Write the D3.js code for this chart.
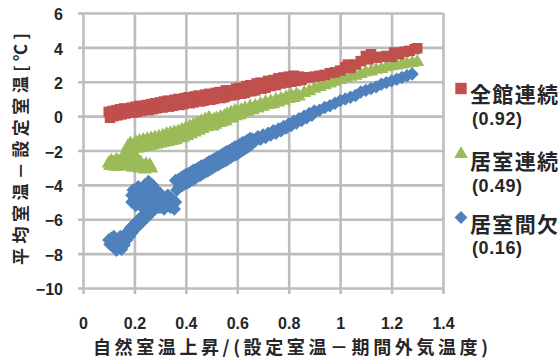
<!DOCTYPE html>
<html>
<head>
<meta charset="utf-8">
<script src="https://cdn.jsdelivr.net/npm/d3@7"></script>
<style>
  html, body { margin: 0; padding: 0; background: #fff; }
  svg { display: block; }
</style>
</head>
<body>
<svg id="chart" width="559" height="358"></svg>
<script>
// ---- data ----
const xTicks = [0, 0.2, 0.4, 0.6, 0.8, 1, 1.2, 1.4];
const yTicks = [6, 4, 2, 0, -2, -4, -6, -8, -10];
const seriesNames = ["全館連続", "居室連続", "居室間欠"];
const seriesNotes = ["(0.92)", "(0.49)", "(0.16)"];

const zenkanPoints = [
  [0.100,0.25],[0.105,-0.1],[0.11,0.15],[0.115,0.3],[0.12,0.0],[0.125,0.2],[0.13,0.35],[0.135,0.05],
  [0.14,0.25],[0.145,0.4],[0.15,0.1],[0.155,0.3],[0.16,0.45],[0.165,0.15],[0.17,0.35],[0.175,0.2],
  [0.18,0.45],[0.185,0.25],[0.19,0.5],[0.195,0.2],[0.20,0.4],[0.205,0.55],[0.21,0.25],[0.215,0.45],
  [0.22,0.6],[0.225,0.3],[0.23,0.5],[0.235,0.35],[0.24,0.6],[0.245,0.4],[0.25,0.65],[0.255,0.35],
  [0.26,0.55],[0.265,0.7],[0.27,0.4],[0.275,0.6],[0.28,0.75],[0.285,0.45],[0.29,0.65],[0.295,0.5],
  [0.30,0.8],[0.31,0.5],[0.315,0.85],[0.32,0.6],[0.33,0.9],[0.335,0.55],[0.34,0.8],[0.35,0.6],
  [0.355,0.95],[0.36,0.7],[0.37,1.0],[0.375,0.65],[0.38,0.9],[0.39,0.7],[0.395,1.05],[0.40,0.8],
  [0.41,1.1],[0.415,0.75],[0.42,1.0],[0.43,0.8],[0.435,1.15],[0.44,0.9],[0.45,1.2],[0.455,0.85],
  [0.46,1.1],[0.47,0.9],[0.475,1.25],[0.48,1.0],[0.49,1.3],[0.495,0.95],[0.50,1.2],[0.51,1.0],
  [0.515,1.35],[0.52,1.1],[0.53,1.4],[0.535,1.05],[0.54,1.3],[0.55,1.1],[0.555,1.5],[0.56,1.2],
  [0.57,1.5],[0.575,1.2],[0.58,1.5],[0.59,1.25],[0.595,1.6],[0.60,1.3],[0.61,1.65],[0.615,1.3],
  [0.62,1.55],[0.63,1.35],[0.635,1.75],[0.64,1.45],[0.65,1.8],[0.655,1.45],[0.66,1.7],[0.67,1.5],
  [0.675,1.9],[0.68,1.6],[0.69,1.95],[0.695,1.6],[0.70,1.85],[0.71,1.65],[0.72,2.05],[0.73,1.75],
  [0.74,2.1],[0.75,1.8],[0.76,2.2],[0.77,1.9],[0.78,2.25],[0.79,1.95],[0.80,2.3],[0.81,2.0],
  [0.82,2.35],[0.83,2.05],[0.84,2.3],[0.85,2.1],[0.86,2.25],[0.88,2.25],[0.90,2.3],[0.92,2.35],
  [0.94,2.4],[0.96,2.5],[0.98,2.55],[1.00,2.65],[1.02,2.85],[1.03,3.0],[1.04,2.8],[1.06,3.0],
  [1.08,3.2],[1.10,3.5],[1.11,3.3],[1.12,3.6],[1.14,3.4],[1.16,3.45],[1.18,3.5],[1.20,3.45],
  [1.21,3.7],[1.23,3.6],[1.25,3.75],[1.27,3.8],[1.29,3.9],[1.30,3.95]
];

const kyoshitsuRenzokuPoints = [
  [0.10,-2.75],[0.105,-2.9],[0.11,-2.6],[0.115,-2.85],[0.12,-2.7],[0.125,-2.95],[0.13,-2.55],[0.135,-2.8],
  [0.14,-2.65],[0.145,-2.95],[0.15,-2.5],[0.155,-2.75],[0.16,-2.6],[0.165,-2.9],[0.17,-2.4],[0.175,-2.7],
  [0.18,-2.2],[0.185,-2.85],[0.19,-2.5],[0.195,-3.0],[0.20,-2.3],[0.205,-2.75],[0.21,-2.95],[0.215,-2.6],
  [0.22,-3.05],[0.225,-2.7],[0.23,-2.9],[0.24,-3.1],[0.245,-2.8],[0.25,-3.0],[0.26,-2.85],[0.265,-3.05],
  [0.17,-2.0],[0.175,-1.75],[0.18,-1.95],[0.185,-1.6],[0.19,-1.85],[0.195,-2.1],[0.20,-1.7],[0.205,-1.5],
  [0.21,-1.9],[0.215,-1.65],[0.22,-1.45],[0.225,-1.85],[0.23,-1.6],[0.235,-1.4],[0.24,-1.8],[0.245,-1.55],
  [0.25,-1.35],[0.255,-1.75],[0.26,-1.5],[0.265,-1.3],[0.27,-1.7],[0.275,-1.45],[0.28,-1.25],[0.285,-1.65],
  [0.29,-1.4],[0.295,-1.2],[0.30,-1.6],[0.305,-1.35],[0.31,-1.15],[0.315,-1.55],[0.32,-1.3],[0.325,-1.05],
  [0.33,-1.5],[0.335,-1.25],[0.34,-1.0],[0.345,-1.45],[0.35,-1.2],[0.355,-0.95],[0.36,-1.4],[0.365,-1.1],
  [0.37,-0.9],[0.375,-1.3],[0.38,-1.05],[0.385,-0.8],[0.39,-1.25],[0.395,-0.95],[0.40,-0.7],[0.405,-1.15],
  [0.41,-0.85],[0.415,-0.6],[0.42,-1.05],[0.425,-0.75],[0.43,-0.5],[0.435,-0.95],[0.44,-0.65],[0.445,-0.4],
  [0.45,-0.85],[0.455,-0.55],[0.46,-0.3],[0.465,-0.75],[0.47,-0.45],[0.475,-0.2],[0.48,-0.65],[0.485,-0.35],
  [0.49,-0.1],[0.495,-0.55],[0.50,-0.3],[0.505,-0.6],[0.51,-0.2],[0.515,-0.5],[0.52,-0.15],[0.53,-0.4],
  [0.535,-0.05],[0.54,-0.35],[0.55,0.0],[0.555,-0.3],[0.56,0.1],[0.57,-0.15],[0.575,0.2],[0.58,-0.1],
  [0.59,0.3],[0.595,0.0],[0.60,0.25],[0.61,0.05],[0.615,0.35],[0.62,0.15],[0.63,0.45],[0.64,0.25],
  [0.65,0.55],[0.66,0.35],[0.67,0.6],[0.68,0.45],[0.69,0.7],[0.70,0.55],[0.71,0.8],[0.72,0.65],
  [0.73,0.85],[0.74,0.7],[0.75,0.95],[0.76,0.8],[0.77,1.0],[0.78,0.9],[0.79,1.1],[0.80,1.0],
  [0.81,1.2],[0.82,1.05],[0.83,1.25],[0.84,1.15],[0.86,1.35],[0.88,1.45],[0.90,1.6],[0.92,1.7],
  [0.94,1.8],[0.96,1.9],[0.98,2.0],[1.00,2.1],[1.02,2.2],[1.04,2.3],[1.06,2.35],[1.08,2.45],
  [1.10,2.55],[1.12,2.6],[1.14,2.7],[1.16,2.75],[1.18,2.85],[1.20,2.9],[1.22,2.95],[1.24,3.0],
  [1.26,3.05],[1.28,3.1],[1.30,3.15]
];

const kyoshitsuKanketsuPoints = [
  [0.10,-7.2],[0.105,-7.45],[0.11,-7.1],[0.115,-7.35],[0.12,-7.0],[0.125,-7.5],[0.13,-7.8],[0.135,-7.3],
  [0.14,-7.6],[0.145,-7.0],[0.15,-7.75],[0.155,-7.3],[0.16,-7.5],[0.165,-6.9],[0.17,-7.2],[0.175,-6.7],
  [0.18,-7.0],[0.185,-6.5],[0.19,-6.8],[0.195,-6.35],[0.20,-6.6],[0.205,-6.2],[0.21,-6.45],[0.215,-6.05],
  [0.22,-6.3],[0.225,-5.9],[0.23,-6.15],[0.235,-5.75],[0.24,-6.0],[0.245,-5.6],[0.25,-5.85],[0.255,-5.45],
  [0.26,-5.7],[0.265,-5.3],[0.27,-5.55],[0.275,-5.2],[0.28,-5.4],[0.29,-5.1],[0.30,-5.3],
  [0.19,-4.6],[0.19,-5.0],[0.195,-4.3],[0.20,-4.8],[0.205,-5.2],[0.21,-4.5],[0.215,-4.1],[0.22,-4.9],
  [0.225,-4.4],[0.23,-5.3],[0.235,-4.7],[0.24,-4.0],[0.245,-4.5],[0.25,-5.0],[0.255,-3.8],[0.26,-4.3],
  [0.265,-4.8],[0.27,-4.0],[0.275,-4.6],[0.28,-5.1],[0.285,-4.3],[0.29,-4.8],[0.295,-5.3],[0.30,-4.5],
  [0.305,-5.0],[0.31,-4.7],[0.315,-5.4],[0.32,-4.9],[0.325,-5.2],[0.33,-4.6],[0.335,-5.0],[0.34,-5.3],
  [0.345,-4.8],[0.35,-5.1],[0.355,-5.4],[0.36,-5.0],
  [0.36,-3.75],[0.365,-4.3],[0.37,-3.7],[0.375,-4.1],[0.38,-3.6],[0.385,-4.05],[0.39,-3.5],[0.395,-3.95],
  [0.40,-3.4],[0.405,-3.9],[0.41,-3.35],[0.415,-3.8],[0.42,-3.25],[0.425,-3.7],[0.43,-3.15],[0.435,-3.65],
  [0.44,-3.1],[0.445,-3.5],[0.45,-3.0],[0.455,-3.45],[0.46,-2.9],[0.465,-3.35],[0.47,-2.85],[0.475,-3.25],
  [0.48,-2.75],[0.485,-3.2],[0.49,-2.65],[0.495,-3.1],[0.50,-2.6],[0.505,-3.0],[0.51,-2.5],[0.515,-2.9],
  [0.52,-2.4],[0.525,-2.85],[0.53,-2.35],[0.535,-2.75],[0.54,-2.25],[0.545,-2.65],[0.55,-2.15],[0.555,-2.6],
  [0.56,-2.05],[0.565,-2.5],[0.57,-2.0],[0.575,-2.4],[0.58,-1.9],[0.585,-2.3],[0.59,-1.8],[0.595,-2.25],
  [0.60,-1.75],[0.605,-2.15],[0.61,-1.65],[0.615,-2.05],[0.62,-1.55],[0.625,-1.95],[0.63,-1.5],[0.635,-1.85],
  [0.64,-1.4],[0.645,-1.75],[0.65,-1.3],[0.655,-1.65],[0.66,-1.35],[0.67,-1.45],[0.68,-1.2],[0.69,-1.35],
  [0.70,-1.1],[0.71,-1.25],[0.72,-1.0],[0.73,-1.1],[0.74,-0.85],[0.75,-1.0],[0.76,-0.75],[0.77,-0.85],
  [0.78,-0.6],[0.79,-0.7],[0.80,-0.45],[0.81,-0.55],[0.82,-0.3],[0.83,-0.4],[0.84,-0.15],[0.85,-0.25],
  [0.86,0.0],[0.87,-0.1],[0.88,0.15],[0.89,0.05],[0.90,0.3],[0.92,0.35],[0.94,0.5],[0.96,0.6],
  [0.98,0.75],[1.00,0.9],[1.02,1.0],[1.04,1.1],[1.06,1.2],[1.08,1.4],[1.10,1.5],[1.12,1.6],
  [1.14,1.7],[1.16,1.85],[1.18,1.95],[1.20,2.05],[1.22,2.15],[1.24,2.25],[1.26,2.35],[1.28,2.45]
];

const seriesColors = ["#C0504D", "#9BBB59", "#4F81BD"];

// ---- chart ----
const svg = d3.select("#chart");
const plotL = 83, plotR = 443, plotT = 13, plotB = 288;
const x = d3.scaleLinear().domain([0, 1.4]).range([plotL, plotR]);
const y = d3.scaleLinear().domain([-10, 6]).range([plotB, plotT]);
const gridColor = "#bdbdbd";
const textColor = "#262626";
const numFont = "'Liberation Sans', Arial, sans-serif";
const cjkFont = "'Noto Sans CJK JP', sans-serif";

// Y axis with gridlines
const gy = svg.append("g").attr("transform", `translate(${plotL},0)`)
  .call(d3.axisLeft(y).tickValues(yTicks).tickSizeInner(-(plotR - plotL)).tickSizeOuter(0).tickPadding(20));
gy.select(".domain").remove();
gy.selectAll(".tick line").attr("x1", -5).attr("x2", plotR - plotL)
  .attr("stroke", gridColor).attr("stroke-width", 2.6);
gy.selectAll(".tick text").attr("font-family", numFont).attr("font-size", 16).attr("font-weight", "bold")
  .attr("fill", textColor).attr("dy", "0.42em");

// X axis with gridlines
const gx = svg.append("g").attr("transform", `translate(0,${plotB})`)
  .call(d3.axisBottom(x).tickValues(xTicks).tickFormat(d3.format("~g"))
    .tickSizeInner(-(plotB - plotT)).tickSizeOuter(0));
gx.select(".domain").remove();
gx.selectAll(".tick line").attr("y1", 6).attr("y2", -(plotB - plotT))
  .attr("stroke", gridColor).attr("stroke-width", 2.6);
gx.selectAll(".tick text").attr("font-family", numFont).attr("font-size", 16).attr("font-weight", "bold")
  .attr("fill", textColor).attr("y", 41).attr("dy", 0);

// symbols
const diamondType = {
  draw(ctx, size) {
    const r = Math.sqrt(size / 2);
    ctx.moveTo(0, -r); ctx.lineTo(r, 0); ctx.lineTo(0, r); ctx.lineTo(-r, 0); ctx.closePath();
  }
};
const symbolTypes = [d3.symbolSquare, d3.symbolTriangle, diamondType];
const symbolSizes = [110, 85, 90];
const allSeries = [zenkanPoints, kyoshitsuRenzokuPoints, kyoshitsuKanketsuPoints];

[2, 1, 0].forEach(i => {
  const sym = d3.symbol().type(symbolTypes[i]).size(symbolSizes[i]);
  svg.append("g").selectAll("path").data(allSeries[i]).join("path")
    .attr("d", sym)
    .attr("transform", d => `translate(${x(d[0])},${y(d[1])})`)
    .attr("fill", seriesColors[i]);
});

// axis titles
svg.append("text")
  .attr("x", 93).attr("y", 354)
  .attr("font-family", cjkFont).attr("font-size", 18).attr("font-weight", "bold")
  .attr("fill", textColor)
  .attr("textLength", 395).attr("lengthAdjust", "spacing")
  .text("自然室温上昇/(設定室温－期間外気温度)");

svg.append("text")
  .attr("transform", "translate(27,265) rotate(-90)")
  .attr("x", 0).attr("y", 0)
  .attr("font-family", cjkFont).attr("font-size", 17).attr("font-weight", "bold")
  .attr("fill", textColor)
  .attr("textLength", 232).attr("lengthAdjust", "spacing")
  .text("平均室温－設定室温[℃]");

// legend
const legendMarkerY = [88.5, 154, 217.5];
const legendTextY = [93, 160, 223];
const legendNoteY = [118.5, 186, 248];
const legendSymbolSizes = [130, 80, 85];
seriesNames.forEach((name, i) => {
  const sym = d3.symbol().type(symbolTypes[i]).size(legendSymbolSizes[i]);
  svg.append("path").attr("d", sym)
    .attr("transform", `translate(461,${legendMarkerY[i]})`)
    .attr("fill", seriesColors[i]);
  svg.append("text")
    .attr("x", 470).attr("y", legendTextY[i]).attr("dominant-baseline", "central")
    .attr("font-family", cjkFont).attr("font-size", 21).attr("font-weight", "bold")
    .attr("fill", textColor)
    .attr("textLength", 88).attr("lengthAdjust", "spacing")
    .text(name);
  svg.append("text")
    .attr("x", 472).attr("y", legendNoteY[i]).attr("dominant-baseline", "central")
    .attr("font-family", numFont).attr("font-size", 18).attr("font-weight", "bold")
    .attr("fill", textColor)
    .attr("textLength", 50).attr("lengthAdjust", "spacing")
    .text(seriesNotes[i]);
});
</script>
</body>
</html>
